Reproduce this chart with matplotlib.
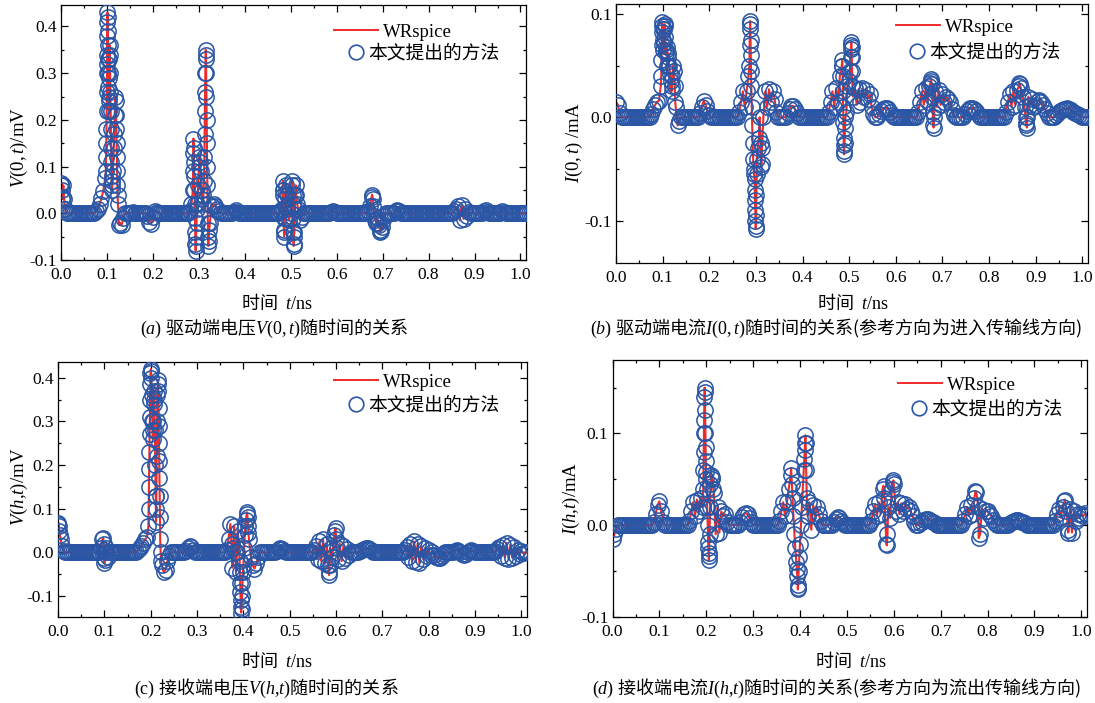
import numpy as np
import matplotlib.pyplot as plt
from matplotlib.lines import Line2D
from matplotlib.ticker import MultipleLocator, FormatStrFormatter

plt.rcParams['font.family'] = ['Liberation Serif', 'Noto Sans CJK SC']
plt.rcParams['mathtext.fontset'] = 'custom'
plt.rcParams['mathtext.rm'] = 'Liberation Serif'
plt.rcParams['mathtext.it'] = 'Liberation Serif:italic'
plt.rcParams['axes.unicode_minus'] = False

# each row = 0.1 ns of the waveform, one sample every 0.004 ns
# (a) V(0,t) in mV
va_rows = [
    [0.060, 0.035, 0.010, 0, 0, 0, 0, 0, 0, 0, 0, 0, 0, 0, 0, 0, 0, 0, 0.001, 0.004, 0.010, 0.020, 0.032, 0.048, 0.075],
    [0.320, 0.220, 0.220, 0.070, 0.170, 0.210, 0.020, -0.020, -0.025, -0.010, 0, 0, 0, 0, 0.002, 0, 0, 0, 0, 0, 0, 0, -0.005, -0.018, -0.022],
    [-0.008, 0.004, 0.003, 0, 0, 0, 0, 0, 0, 0, 0, 0, 0, 0, 0, 0, 0, 0, 0, 0, 0.005, 0.020, 0.130, -0.040, 0.010],
    [0.100, 0.090, 0.020, 0.120, 0.300, -0.050, -0.020, 0.015, 0.020, 0.015, 0.010, 0.005, 0, 0, 0, 0, 0, 0, 0, 0.003, 0.006, 0.003, 0, 0, 0],
    [0, 0, 0, 0, 0, 0, 0, 0, 0, 0, 0, 0, 0, 0, 0, 0, 0, 0, 0, 0.005, 0.010, 0.040, 0.030, 0.010, -0.015],
    [0.000, 0.040, -0.040, 0.040, 0.010, -0.015, -0.008, 0, 0, 0, 0, 0, 0, 0, 0, 0, 0, 0, 0, 0, 0, 0, 0.003, 0.005, 0.002],
    [0, 0, 0, 0, 0, 0, 0, 0, 0, 0, 0, 0, 0, 0, 0, 0, 0, 0.005, 0.015, 0.035, 0.015, -0.015, -0.010, -0.025, -0.038],
    [-0.015, -0.005, 0, 0, 0, 0, 0, 0.005, 0.008, 0.005, 0, 0, 0, 0, 0, 0, 0, 0, 0, 0, 0, 0, 0, 0, 0],
    [0, 0, 0, 0, 0, 0, 0, 0, 0, 0, 0, 0, 0, 0, 0.005, 0.010, 0.016, -0.015, 0.018, -0.012, 0.010, -0.005, 0.003, 0, 0],
    [0, 0, 0, 0, 0, 0.005, 0.006, 0.003, 0, 0, 0, 0, 0, 0, 0, 0.004, 0.003, 0, 0, 0, 0, 0, 0, 0, 0],
    [0, 0, 0, 0],
]
# fast transients (t ns, value)
va_spikes = [
    (0.0010, 0.065), (0.0020, 0.050), (0.0030, 0.030), (0.0050, 0.060), (0.0070, 0.030), (0.0090, 0.010),
    (0.0975, 0.090), (0.0980, 0.120), (0.0985, 0.150), (0.0990, 0.180), (0.0993, 0.220), (0.0996, 0.260),
    (0.0999, 0.300), (0.1002, 0.340), (0.1005, 0.380), (0.1008, 0.410), (0.1011, 0.430), (0.1014, 0.420),
    (0.1017, 0.390), (0.1020, 0.360), (0.1023, 0.330), (0.1026, 0.300), (0.1030, 0.270), (0.1035, 0.240),
    (0.1045, 0.250), (0.1050, 0.290), (0.1055, 0.330), (0.1060, 0.360), (0.1065, 0.340), (0.1070, 0.300),
    (0.1075, 0.260), (0.1085, 0.180), (0.1090, 0.140), (0.1095, 0.110), (0.1100, 0.080), (0.1105, 0.060),
    (0.1110, 0.050), (0.1130, 0.090), (0.1150, 0.140), (0.1170, 0.210), (0.1180, 0.250), (0.1190, 0.240),
    (0.1205, 0.180), (0.1210, 0.150), (0.1215, 0.120), (0.1220, 0.090), (0.1225, 0.060), (0.1230, 0.040),
    (0.1260, -0.025),
    (0.2870, 0.050), (0.2875, 0.090), (0.2883, 0.160), (0.2890, 0.140), (0.2895, 0.110), (0.2900, 0.080),
    (0.2905, 0.050), (0.2910, 0.020), (0.2915, -0.010), (0.2925, -0.065), (0.2930, -0.080), (0.2935, -0.070),
    (0.2940, -0.050), (0.2950, -0.020), (0.2970, 0.020), (0.2985, 0.060), (0.3010, 0.120), (0.3025, 0.110),
    (0.3060, 0.050), (0.3075, 0.030),
    (0.3100, 0.040), (0.3110, 0.070), (0.3125, 0.170), (0.3130, 0.220), (0.3135, 0.260), (0.3140, 0.300),
    (0.3145, 0.330), (0.3150, 0.350), (0.3155, 0.340), (0.3165, 0.250), (0.3170, 0.200), (0.3175, 0.150),
    (0.3180, 0.100), (0.3185, 0.060), (0.3190, 0.020), (0.3195, -0.020), (0.3205, -0.070), (0.3212, -0.060),
    (0.3225, -0.035),
    (0.4825, 0.050), (0.4830, 0.070), (0.4835, 0.050), (0.4845, -0.010), (0.4850, -0.035), (0.4855, -0.050),
    (0.4860, -0.040), (0.4870, -0.010), (0.4890, 0.045), (0.4900, 0.060), (0.4910, 0.040),
    (0.5030, 0.060), (0.5035, 0.070), (0.5045, 0.020), (0.5050, -0.010), (0.5055, -0.040), (0.5060, -0.065),
    (0.5065, -0.070), (0.5070, -0.050), (0.5090, 0.010), (0.5100, 0.040), (0.5110, 0.060), (0.5140, 0.020),
    (0.6770, 0.040), (0.6790, 0.030), (0.6820, -0.005), (0.6860, -0.020), (0.6900, -0.020), (0.6940, -0.035),
    (0.6950, -0.040), (0.6980, -0.030),
]

# (b) I(0,t) in mA
vb_rows = [
    [0.015, 0.012, 0.004, 0, 0, 0, 0, 0, 0, 0, 0, 0, 0, 0, 0, 0, 0, 0, 0, 0.003, 0.008, 0.012, 0.015, 0.016, 0.030],
    [0.085, 0.088, 0.065, 0.058, 0.042, 0.030, 0.045, 0.010, -0.008, -0.004, 0, 0, 0, 0, 0, 0, 0, 0, 0, 0, 0.004, 0.010, 0.016, 0.012, 0.006],
    [0.002, 0, 0, 0, 0, 0, 0, 0, 0, 0, 0, 0, 0, 0, 0, 0, 0.005, 0.015, 0.025, 0.010, 0.025, 0.040, 0.090, -0.008, -0.055],
    [-0.105, -0.030, 0.000, -0.045, 0.000, 0.025, 0.010, 0.027, 0.015, 0.025, 0.018, 0.005, 0, 0, 0, 0, 0, 0.004, 0.008, 0.011, 0.011, 0.008, 0.004, 0, 0],
    [0, 0, 0, 0, 0, 0, 0, 0, 0, 0, 0, 0, 0, 0, 0.005, 0.015, 0.025, 0.010, 0.028, 0.015, 0.040, 0.050, -0.027, 0.000, 0.030],
    [0.035, 0.070, 0.020, 0.028, 0.012, 0.027, 0.015, 0.028, 0.020, 0.026, 0.018, 0.022, 0.010, 0.003, 0, 0, 0.003, 0.006, 0.008, 0.009, 0.009, 0.008, 0.005, 0.002, 0],
    [0, 0, 0, 0, 0, 0, 0, 0, 0, 0, 0, 0, 0.005, 0.015, 0.025, 0.012, 0.028, 0.015, 0.030, 0.035, -0.008, 0.025, 0.010, 0.026, 0.012],
    [0.022, 0.015, 0.020, 0.018, 0.015, 0.008, 0.002, 0, 0, 0, 0, 0, 0.003, 0.006, 0.008, 0.009, 0.009, 0.008, 0.006, 0.003, 0, 0, 0, 0, 0],
    [0, 0, 0, 0, 0, 0, 0, 0, 0, 0.005, 0.015, 0.022, 0.010, 0.025, 0.012, 0.026, 0.030, 0.028, 0.020, 0.010, -0.008, 0.020, 0.012, 0.018, 0.010],
    [0.012, 0.016, 0.017, 0.015, 0.012, 0.008, 0.004, 0, 0, 0, 0, 0.002, 0.004, 0.006, 0.007, 0.008, 0.008, 0.009, 0.008, 0.007, 0.005, 0.004, 0.003, 0.002, 0.001],
    [0, 0, 0, 0],
]
vb_spikes = [
    (0.0970, 0.040), (0.0975, 0.055), (0.0980, 0.070), (0.0985, 0.082), (0.0990, 0.092), (0.0995, 0.088),
    (0.1005, 0.075), (0.1015, 0.065), (0.1025, 0.072), (0.1035, 0.085), (0.1045, 0.090), (0.1055, 0.078),
    (0.1065, 0.062), (0.1085, 0.068), (0.1100, 0.050), (0.1110, 0.050), (0.1125, 0.062), (0.1140, 0.050),
    (0.1170, 0.035), (0.1190, 0.025), (0.1210, 0.040), (0.1230, 0.050), (0.1260, 0.030), (0.1270, 0.015),
    (0.2860, 0.050), (0.2865, 0.070), (0.2870, 0.085), (0.2875, 0.093), (0.2885, 0.075), (0.2890, 0.060),
    (0.2895, 0.045), (0.2900, 0.030), (0.2910, 0.010), (0.2930, -0.025), (0.2940, -0.040), (0.2950, -0.050),
    (0.2970, -0.060), (0.2975, -0.070), (0.2980, -0.080), (0.2985, -0.090), (0.2990, -0.100), (0.2995, -0.108),
    (0.3005, -0.095), (0.3010, -0.075), (0.3015, -0.055), (0.3020, -0.040), (0.3060, -0.020), (0.3100, -0.025),
    (0.3115, -0.048), (0.3130, -0.030),
    (0.4850, 0.055), (0.4855, 0.050), (0.4860, 0.040), (0.4865, 0.025), (0.4870, 0.010), (0.4875, -0.005),
    (0.4880, -0.020), (0.4885, -0.033), (0.4890, -0.036), (0.4900, -0.025), (0.4910, -0.010), (0.4940, 0.005),
    (0.5020, 0.045), (0.5030, 0.058), (0.5035, 0.066), (0.5045, 0.073), (0.5050, 0.068), (0.5055, 0.058),
    (0.5060, 0.045), (0.5070, 0.030),
    (0.6740, 0.033), (0.6750, 0.037), (0.6770, 0.032), (0.6780, 0.020), (0.6790, 0.005), (0.6810, -0.010),
    (0.6820, 0.000),
    (0.8650, 0.033), (0.8660, 0.032), (0.8780, 0.000), (0.8790, -0.006), (0.8810, -0.010), (0.8820, 0.000),
]

# (c) V(h,t) in mV
vc_rows = [
    [0.065, 0.040, 0.015, 0.003, 0, 0, 0, 0, 0, 0, 0, 0, 0, 0, 0, 0, 0, 0, 0, 0, 0, 0, 0.002, 0.010, 0.030],
    [-0.025, 0.010, -0.010, 0, 0, 0, 0, 0, 0, 0, 0, 0, 0, 0, 0, 0, 0, 0.002, 0.005, 0.010, 0.015, 0.022, 0.030, 0.035, 0.150],
    [0.415, 0.280, 0.350, 0.100, 0.385, 0.080, -0.030, -0.045, -0.040, -0.020, -0.008, 0, 0, 0, 0, 0, 0, 0, 0, 0.004, 0.010, 0.014, 0.012, 0.006, 0.002],
    [0, 0, 0, 0, 0, 0, 0, 0, 0, 0, 0, 0, 0, 0, 0, 0, 0.005, 0.030, 0.065, -0.035, 0.060, -0.045, 0.050, -0.020, -0.130],
    [-0.030, 0.060, 0.092, 0.030, -0.010, -0.030, -0.037, -0.025, -0.010, 0, 0, 0, 0, 0, 0, 0, 0, 0, 0.004, 0.008, 0.010, 0.008, 0.004, 0, 0],
    [0, 0, 0, 0, 0, 0, 0, 0, 0, 0, 0, 0, 0, 0.005, 0.015, -0.015, 0.025, -0.020, 0.030, -0.025, 0.020, -0.045, 0.010, -0.010, 0.040],
    [0.030, -0.015, 0.020, -0.020, 0.015, -0.012, 0.008, -0.005, 0, 0, 0, 0, 0, 0.003, 0.006, 0.008, 0.010, 0.010, 0.008, 0.005, 0.002, 0, 0, 0, 0],
    [0, 0, 0, 0, 0, 0, 0, 0, 0, 0, 0, 0, 0.005, 0.012, -0.010, 0.020, -0.020, 0.025, -0.022, 0.020, -0.025, 0.015, -0.015, 0.010, -0.008],
    [0.005, -0.005, 0, -0.005, -0.010, -0.014, -0.012, -0.008, -0.003, 0, 0, 0, 0, 0, 0.004, 0.006, 0.004, 0, -0.003, -0.005, -0.003, 0, 0.004, 0.006, 0.003],
    [0, 0, 0, 0, 0, 0, 0, 0, 0, 0, 0, 0.004, 0.008, 0.012, -0.008, 0.018, -0.012, 0.022, -0.015, 0.018, -0.012, 0.012, -0.008, 0.006, -0.004],
    [0.003, -0.002, 0, 0],
]
vc_spikes = [
    (0.0010, 0.068), (0.0020, 0.060), (0.0030, 0.050), (0.0060, 0.030),
    (0.0975, 0.033), (0.0985, 0.020), (0.0990, 0.005), (0.0995, -0.012), (0.1015, -0.018), (0.1030, 0.000),
    (0.1060, 0.000),
    (0.1950, 0.060), (0.1955, 0.100), (0.1965, 0.190), (0.1970, 0.230), (0.1975, 0.270), (0.1980, 0.310),
    (0.1985, 0.350), (0.1990, 0.385), (0.1995, 0.410), (0.2005, 0.420), (0.2015, 0.400), (0.2025, 0.360),
    (0.2035, 0.300), (0.2045, 0.260), (0.2055, 0.300), (0.2065, 0.340), (0.2075, 0.370), (0.2090, 0.280),
    (0.2100, 0.200), (0.2108, 0.130), (0.2115, 0.070), (0.2122, 0.130), (0.2130, 0.220), (0.2138, 0.300),
    (0.2145, 0.360), (0.2155, 0.395), (0.2165, 0.370), (0.2170, 0.330), (0.2175, 0.290), (0.2180, 0.250),
    (0.2185, 0.210), (0.2190, 0.170), (0.2195, 0.130), (0.2205, 0.030), (0.2215, 0.000), (0.2225, -0.020),
    (0.3745, 0.020), (0.3785, 0.010), (0.3825, 0.000), (0.3865, 0.000), (0.3925, -0.045), (0.3930, -0.070),
    (0.3935, -0.090), (0.3940, -0.110), (0.3945, -0.125), (0.3950, -0.138), (0.3970, -0.100), (0.3980, -0.070),
    (0.3990, -0.045), (0.4015, 0.010), (0.4030, 0.040), (0.4055, 0.075), (0.4070, 0.088), (0.4090, 0.080),
    (0.4100, 0.060), (0.4110, 0.045),
    (0.5835, -0.030), (0.5850, -0.052), (0.5860, -0.030), (0.5975, 0.050), (0.5990, 0.055), (0.6015, 0.010),
]

# (d) I(h,t) in mA
vd_rows = [
    [-0.015, -0.010, -0.004, 0, 0, 0, 0, 0, 0, 0, 0, 0, 0, 0, 0, 0, 0, 0, 0, 0, 0, 0, 0.003, 0.012, 0.022],
    [0.026, 0.015, 0.004, 0, 0, 0, 0, 0, 0, 0, 0, 0, 0, 0, 0, 0, 0.005, 0.015, 0.025, 0.010, 0.028, 0.015, 0.030, 0.020, 0.140],
    [0.050, -0.018, 0.020, 0.052, 0.035, -0.010, 0.020, -0.008, 0.015, 0.010, 0.012, 0.004, 0, 0, 0, 0, 0, 0, 0.004, 0.009, 0.012, 0.013, 0.012, 0.008, 0.004],
    [0, 0, 0, 0, 0, 0, 0, 0, 0, 0, 0, 0, 0, 0, 0.005, 0.015, 0.025, 0.010, 0.025, 0.040, 0.055, 0.030, -0.010, -0.040, -0.065],
    [-0.020, 0.020, 0.060, 0.090, 0.010, 0.025, -0.005, 0.022, 0.010, 0.020, 0.012, 0.005, 0, 0, 0, 0, 0, 0, 0.004, 0.007, 0.009, 0.008, 0.005, 0.002, 0],
    [0, 0, 0, 0, 0, 0, 0, 0, 0, 0, 0, 0, 0, 0.005, 0.015, 0.023, 0.010, 0.025, 0.012, 0.040, 0.030, -0.020, 0.020, 0.008, 0.040],
    [0.045, 0.015, 0.025, 0.012, 0.024, 0.015, 0.023, 0.018, 0.020, 0.015, 0.010, 0.004, 0, 0, 0.002, 0.004, 0.006, 0.007, 0.007, 0.006, 0.005, 0.004, 0.002, 0, 0],
    [0, 0, 0, 0, 0, 0, 0, 0, 0, 0, 0, 0, 0.005, 0.012, 0.020, 0.010, 0.022, 0.012, 0.030, 0.036, 0.020, -0.010, 0.018, 0.008, 0.016],
    [0.015, 0.012, 0.010, 0.006, 0.002, 0, 0, 0, 0, 0, 0, 0, 0.002, 0.004, 0.005, 0.006, 0.006, 0.005, 0.004, 0.003, 0.002, 0, 0, 0, 0],
    [0, 0, 0, 0, 0, 0, 0, 0, 0, 0, 0, 0.005, 0.012, 0.018, 0.008, 0.020, 0.026, 0.015, -0.005, 0.018, -0.008, 0.015, 0.005, 0.012, 0.008],
    [0.012, 0.010, 0.013, 0.011],
]
vd_spikes = [
    (0.1935, 0.040), (0.1940, 0.060), (0.1945, 0.080), (0.1950, 0.100), (0.1955, 0.115), (0.1965, 0.150),
    (0.1970, 0.145), (0.1975, 0.125), (0.1980, 0.100), (0.1985, 0.085), (0.1990, 0.070), (0.1995, 0.058),
    (0.2010, 0.040), (0.2020, 0.020), (0.2030, 0.000), (0.2045, -0.025), (0.2050, -0.033), (0.2055, -0.038),
    (0.2060, -0.030), (0.2070, -0.010), (0.2090, 0.045), (0.2110, 0.055), (0.2130, 0.050), (0.2150, 0.040),
    (0.3810, 0.062), (0.3825, 0.045), (0.3860, 0.010), (0.3900, -0.025), (0.3930, -0.048), (0.3940, -0.055),
    (0.3950, -0.068), (0.3955, -0.070), (0.3970, -0.050), (0.3985, -0.035), (0.4020, 0.000), (0.4060, 0.040),
    (0.4090, 0.072), (0.4100, 0.082), (0.4105, 0.090), (0.4115, 0.098), (0.4130, 0.060), (0.4145, 0.030),
    (0.5780, 0.043), (0.5850, -0.022), (0.5865, -0.010), (0.5980, 0.047), (0.5990, 0.049),
    (0.7740, 0.037), (0.7810, -0.014),
    (0.9650, 0.028), (0.9720, -0.008),
]

red = '#ee2b2b'
blue = '#2a56a5'


def series(rows, spikes):
    t = [round(0.1 * r + 0.004 * k, 4) for r, row in enumerate(rows) for k in range(len(row))]
    v = [x for row in rows for x in row]
    t += [p[0] for p in spikes]
    v += [p[1] for p in spikes]
    order = np.argsort(t, kind='stable')
    return np.array(t)[order], np.array(v)[order]


W, H = 1095, 703
fig = plt.figure(figsize=(W / 100, H / 100), dpi=100)


def px(x, y):
    return x / W, 1 - y / H


panels = [
    dict(rows=va_rows, spikes=va_spikes, box=(61, 5, 526, 260), ylim=(-0.100, 0.446),
         ylab=r'$V\mathrm{(0,}t\mathrm{)/mV}$', ylab_xy=(19, 147),
         xlab_xy=(277, 302), leg1=(334, 32), leg2=(347, 53),
         cap=r'$\mathrm{(}a\mathrm{)}$ 驱动端电压$V\mathrm{(0,}t\mathrm{)}$随时间的关系', cap_xy=(274, 328)),
    dict(rows=vb_rows, spikes=vb_spikes, box=(616, 3.5, 1088, 263), ylim=(-0.141, 0.110),
         ylab=r'$I\mathrm{(0,}t\mathrm{)\ /mA}$', ylab_xy=(574, 143),
         xlab_xy=(853, 302), leg1=(896, 27), leg2=(908, 52),
         cap=r'$\mathrm{(}b\mathrm{)}$ 驱动端电流$I\mathrm{(0,}t\mathrm{)}$随时间的关系(参考方向为进入传输线方向)', cap_xy=(836, 328)),
    dict(rows=vc_rows, spikes=vc_spikes, box=(58, 362, 527, 617), ylim=(-0.148, 0.436),
         ylab=r'$V\mathrm{(}h\mathrm{,}t\mathrm{)/mV}$', ylab_xy=(19, 487),
         xlab_xy=(277, 660), leg1=(334, 382), leg2=(347, 405),
         cap=r'$\mathrm{(c)}$ 接收端电压$V\mathrm{(}h\mathrm{,}t\mathrm{)}$随时间的关系', cap_xy=(266, 688)),
    dict(rows=vd_rows, spikes=vd_spikes, box=(612.5, 360, 1087, 617), ylim=(-0.100, 0.180),
         ylab=r'$I\mathrm{(}h\mathrm{,}t\mathrm{)/mA}$', ylab_xy=(571, 498),
         xlab_xy=(851, 660), leg1=(898, 385), leg2=(910, 409),
         cap=r'$\mathrm{(}d\mathrm{)}$ 接收端电流$I\mathrm{(}h\mathrm{,}t\mathrm{)}$随时间的关系(参考方向为流出传输线方向)', cap_xy=(837, 688)),
]

cjk = 'Noto Sans CJK SC'

for p in panels:
    x0, y0, x1, y1 = p['box']
    ax = fig.add_axes([x0 / W, 1 - y1 / H, (x1 - x0) / W, (y1 - y0) / H])
    t, v = series(p['rows'], p['spikes'])
    ax.plot(t, v, color=red, lw=1.5, zorder=2)
    ax.plot(t, v, ls='none', marker='o', ms=11, mfc='none', mec=blue, mew=1.1, zorder=3)

    ax.set_xlim(0, 1.012)
    ax.set_ylim(*p['ylim'])
    ax.xaxis.set_major_locator(MultipleLocator(0.1))
    ax.xaxis.set_minor_locator(MultipleLocator(0.05))
    ax.yaxis.set_major_locator(MultipleLocator(0.1))
    ax.yaxis.set_minor_locator(MultipleLocator(0.05))
    ax.xaxis.set_major_formatter(FormatStrFormatter('%.1f'))
    ax.yaxis.set_major_formatter(FormatStrFormatter('%.1f'))
    ax.tick_params(which='both', direction='in', top=True, right=True, width=0.9, labelsize=12.5)
    ax.tick_params(which='major', length=5)
    ax.tick_params(which='minor', length=2.5)
    ax.tick_params(axis='x', pad=5)
    ax.tick_params(axis='y', pad=3)
    for s in ax.spines.values():
        s.set_linewidth(0.9)

    # legend: two entries placed separately like in the original
    ax_w, ax_h = x1 - x0, y1 - y0
    lx, ly = p['leg1']
    l1 = ax.legend([Line2D([], [], color=red, lw=1.4)], ['WRspice'], loc='center left',
                   bbox_to_anchor=((lx - x0) / ax_w, (y1 - ly) / ax_h), frameon=False,
                   handlelength=2.35, handletextpad=0.27, borderpad=0, borderaxespad=0,
                   prop={'family': 'Liberation Serif', 'size': 13.5})
    ax.add_artist(l1)
    lx, ly = p['leg2']
    ax.legend([Line2D([], [], ls='none', marker='o', ms=10.5, mfc='none', mec=blue, mew=1.2)],
              ['本文提出的方法'], loc='center left',
              bbox_to_anchor=((lx - x0) / ax_w, (y1 - ly) / ax_h), frameon=False,
              handlelength=1.0, handletextpad=0.15, borderpad=0, borderaxespad=0,
              prop={'family': cjk, 'size': 13.5})

    fig.text(*px(*p['ylab_xy']), p['ylab'], rotation=90, ha='center', va='center', fontsize=13.5)
    fig.text(*px(*p['xlab_xy']), r'时间  $t\mathrm{/ns}$', ha='center', va='center',
             fontsize=13, family=cjk)
    fig.text(*px(*p['cap_xy']), p['cap'], ha='center', va='center', fontsize=13, family=cjk)

fig.savefig('out.png', dpi=100)
